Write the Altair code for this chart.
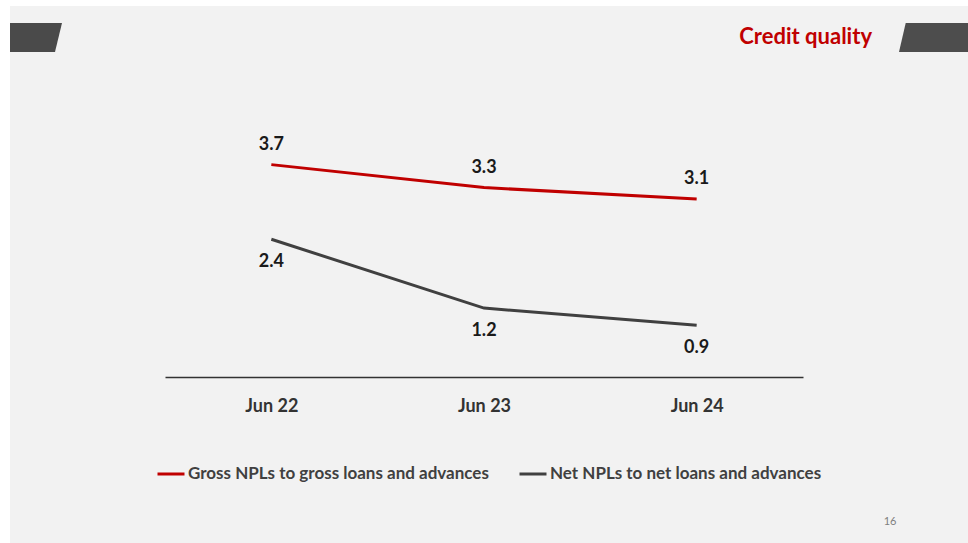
import altair as alt
import pandas as pd

categories = ["Jun 22", "Jun 23", "Jun 24"]
gross = [3.7, 3.3, 3.1]
net = [2.4, 1.2, 0.9]
series_names = ["Gross NPLs to gross loans and advances", "Net NPLs to net loans and advances"]
series_colors = ["#C00000", "#404040"]

rows = []
for c, g, n in zip(categories, gross, net):
    rows.append({"period": c, "value": g, "series": series_names[0]})
    rows.append({"period": c, "value": n, "series": series_names[1]})
df = pd.DataFrame(rows)

FONT = "Lato"
LEFT, TOP, W, H = 165, 90, 638, 287
TOTAL_W, TOTAL_H = 968, 543

x_enc = alt.X("period:N", sort=categories, title=None,
              scale=alt.Scale(type="point", padding=0.5),
              axis=alt.Axis(labelAngle=0, labelFont=FONT, labelFontSize=18, labelFontWeight="bold",
                            labelColor="#333333", domainColor="#333333", domainWidth=1.5,
                            ticks=False, labelPadding=20, grid=False, zindex=2))
y_enc = alt.Y("value:Q", title=None, scale=alt.Scale(domain=[0, 5], nice=False), axis=None)
color_enc = alt.Color("series:N", scale=alt.Scale(domain=series_names, range=series_colors),
                      legend=alt.Legend(title=None, orient="none", legendX=-9, legendY=369,
                                        direction="horizontal", symbolType="stroke",
                                        symbolSize=729, symbolStrokeWidth=3, labelOffset=2,
                                        columnPadding=24, labelFont=FONT, labelFontSize=17,
                                        labelFontWeight="bold", labelColor="#404040",
                                        labelLimit=0, zindex=2))

# background panel
panel = alt.Chart(pd.DataFrame({"k": [0]})).mark_rect(color="#f2f2f2").encode(
    x=alt.value(10 - LEFT), x2=alt.value(TOTAL_W - LEFT),
    y=alt.value(6 - TOP), y2=alt.value(TOTAL_H - TOP))

# header shapes
logo_shape = "M-0.867,-0.483 L0.867,-0.483 L0.633,0.483 L-0.867,0.483 Z"
right_shape = "M-0.943,-0.483 L1.2,-0.483 L1.2,0.483 L-1.167,0.483 Z"
logo = alt.Chart(pd.DataFrame({"k": [0]})).mark_point(
    shape=logo_shape, size=3600, filled=True, color="#4a4a4a", opacity=1).encode(
    x=alt.value(36 - LEFT), y=alt.value(37.5 - TOP))
right_bar = alt.Chart(pd.DataFrame({"k": [0]})).mark_point(
    shape=right_shape, size=3600, filled=True, color="#4d4d4d", opacity=1).encode(
    x=alt.value(934 - LEFT), y=alt.value(37.5 - TOP))

title = alt.Chart(pd.DataFrame({"t": ["Credit quality"]})).mark_text(
    align="right", baseline="middle", font=FONT, fontSize=22, fontWeight="bold", color="#C00000").encode(
    text="t:N", x=alt.value(872 - LEFT), y=alt.value(37 - TOP))

page = alt.Chart(pd.DataFrame({"t": ["16"]})).mark_text(
    align="center", baseline="middle", font=FONT, fontSize=11, color="#7f7f7f").encode(
    text="t:N", x=alt.value(890 - LEFT), y=alt.value(522 - TOP))

base = alt.Chart(df)
lines = base.mark_line(strokeWidth=3).encode(x=x_enc, y=y_enc, color=color_enc)

label_gross = base.transform_filter(alt.datum.series == series_names[0]).mark_text(
    dy=-20, font=FONT, fontSize=18, fontWeight="bold", color="#1a1a1a").encode(
    x=alt.X("period:N", sort=categories), y=alt.Y("value:Q"), text=alt.Text("value:Q", format=".1f"))
label_net = base.transform_filter(alt.datum.series == series_names[1]).mark_text(
    dy=23, font=FONT, fontSize=18, fontWeight="bold", color="#1a1a1a").encode(
    x=alt.X("period:N", sort=categories), y=alt.Y("value:Q"), text=alt.Text("value:Q", format=".1f"))

chart = alt.layer(panel, logo, right_bar, title, page, lines, label_gross, label_net).properties(
    width=W, height=H,
    autosize=alt.AutoSizeParams(type="none"),
    padding={"left": LEFT, "top": TOP, "right": TOTAL_W - LEFT - W, "bottom": TOTAL_H - TOP - H},
    background="white",
).configure_view(stroke=None)

chart.save("out.html", embed_options={"renderer": "svg", "actions": False})
